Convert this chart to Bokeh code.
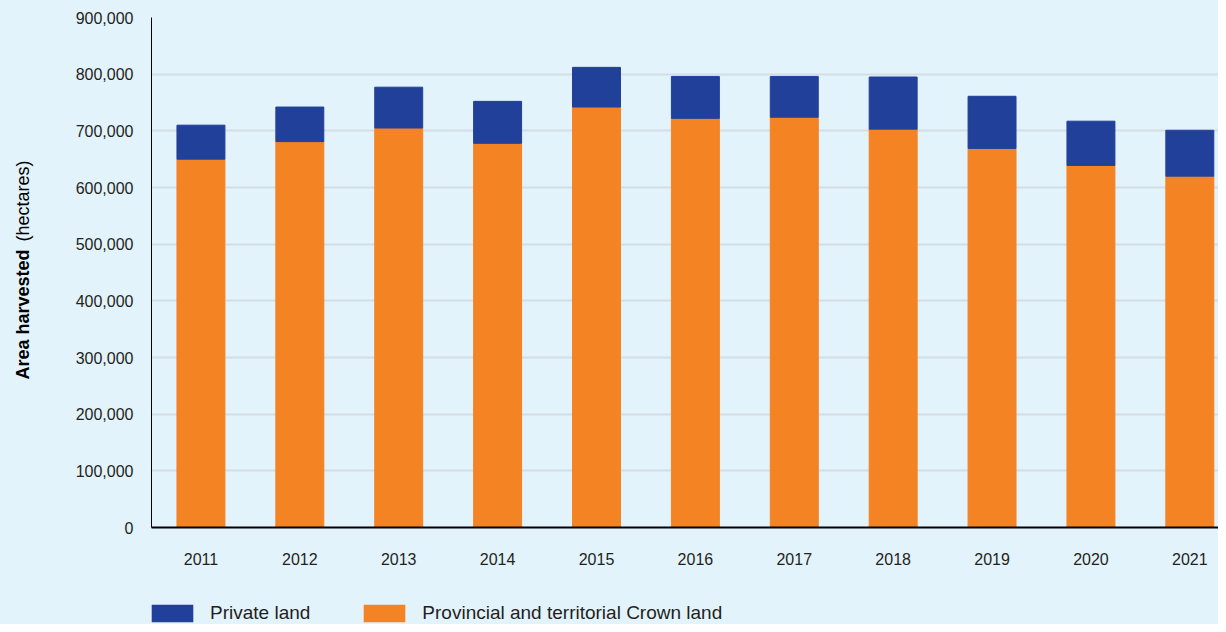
from math import pi
from bokeh.plotting import figure
from bokeh.layouts import column, row
from bokeh.core.properties import value
from bokeh.models import (ColumnDataSource, Legend, LegendItem, FixedTicker,
                          NumeralTickFormatter, Range1d)
from bokeh.embed import file_html
from bokeh.resources import INLINE

years = ["2011", "2012", "2013", "2014", "2015", "2016", "2017", "2018", "2019", "2020", "2021"]
crown_land = [650000, 681000, 705000, 678000, 742000, 722000, 724000, 703000, 669000, 639000, 620000]
private_land = [60000, 61000, 72000, 74000, 70000, 74000, 72000, 92000, 92000, 78000, 81000]
y_ticks = [0, 100000, 200000, 300000, 400000, 500000, 600000, 700000, 800000, 900000]
series_names = ["Private land", "Provincial and territorial Crown land"]
y_title_bold = "Area harvested"
y_title_unit = "(hectares)"

BG = "#e3f3fc"
ORANGE = "#f48323"
NAVY = "#21409a"
TXT = "#231f20"
FONT = "Liberation Sans"

xs = [i + 0.5 for i in range(len(years))]
totals = [c + p for c, p in zip(crown_land, private_land)]
src = ColumnDataSource(dict(x=xs, crown=crown_land, private=private_land, total=totals))

y_range = Range1d(0, 900000)
TOP, BOTTOM = 17, 73

p = figure(width=1178, height=600, output_backend="svg", toolbar_location=None,
           x_range=Range1d(0, 10.79), y_range=y_range,
           min_border_left=111, min_border_right=0, min_border_top=TOP, min_border_bottom=BOTTOM,
           background_fill_color=BG, border_fill_color=BG, outline_line_color=None)

r_crown = p.vbar(x="x", bottom=0, top="crown", width=0.485, color=ORANGE, source=src)
r_priv = p.vbar(x="x", bottom="crown", top="total", width=0.485, color=NAVY, source=src)

p.xgrid.visible = False
p.ygrid.grid_line_color = "#d3dde3"
p.ygrid.grid_line_width = 2
p.ygrid.ticker = FixedTicker(ticks=y_ticks)

p.yaxis.ticker = FixedTicker(ticks=y_ticks)
p.yaxis.formatter = NumeralTickFormatter(format="0,0")
p.yaxis.axis_line_color = "black"
p.yaxis.axis_line_width = 1
p.yaxis.major_tick_line_color = None
p.yaxis.minor_tick_line_color = None
p.yaxis.major_tick_out = 0
p.yaxis.minor_tick_out = 0
p.yaxis.major_label_standoff = 18
p.yaxis.major_label_text_font = FONT
p.yaxis.major_label_text_font_size = "16px"
p.yaxis.major_label_text_color = TXT

p.xaxis.ticker = FixedTicker(ticks=xs)
p.xaxis.major_label_overrides = {x: y for x, y in zip(xs, years)}
p.xaxis.axis_line_color = "black"
p.xaxis.axis_line_width = 2
p.xaxis.major_tick_line_color = None
p.xaxis.minor_tick_line_color = None
p.xaxis.major_tick_out = 0
p.xaxis.minor_tick_out = 0
p.xaxis.major_label_standoff = 25
p.xaxis.major_label_text_font = FONT
p.xaxis.major_label_text_font_size = "16px"
p.xaxis.major_label_text_color = TXT

# narrow strip on the left for the y-axis title (bold + normal parts)
t = figure(width=40, height=600, output_backend="svg", toolbar_location=None,
           x_range=Range1d(0, 40), y_range=y_range,
           x_axis_location=None, y_axis_location=None,
           min_border_left=0, min_border_right=0, min_border_top=TOP, min_border_bottom=BOTTOM,
           background_fill_color=BG, border_fill_color=BG, outline_line_color=None)
t.xgrid.visible = False
t.ygrid.visible = False
t.text(x=[22], y=[261000], text=[y_title_bold], angle=pi / 2, text_align="left",
       text_baseline="middle", text_font=value(FONT), text_font_style="bold",
       text_font_size="18px", text_color="black")
t.text(x=[22], y=[647600], text=[y_title_unit], angle=pi / 2, text_align="right",
       text_baseline="middle", text_font=value(FONT), text_font_size="18px", text_color="black")

# legend strip below the chart (swatch renderers have zero size, so draw nothing)
lg = figure(width=1218, height=24, output_backend="svg", toolbar_location=None,
            x_range=Range1d(0, 1), y_range=Range1d(0, 1),
            x_axis_location=None, y_axis_location=None,
            min_border_left=0, min_border_right=0, min_border_top=0, min_border_bottom=0,
            background_fill_color=BG, border_fill_color=BG, outline_line_color=None)
lg.xgrid.visible = False
lg.ygrid.visible = False
d_priv = lg.vbar(x=[0.5], bottom=[0], top=[0], width=0, fill_color=NAVY, line_color=None)
d_crown = lg.vbar(x=[0.5], bottom=[0], top=[0], width=0, fill_color=ORANGE, line_color=None)

legend = Legend(items=[LegendItem(label=series_names[0], renderers=[d_priv]),
                       LegendItem(label=series_names[1], renderers=[d_crown])],
                orientation="horizontal", location=(146, 0),
                glyph_width=52, glyph_height=22, label_height=20,
                label_standoff=12, spacing=48, margin=0, padding=0,
                label_text_font=FONT, label_text_font_size="19px", label_text_color=TXT,
                background_fill_alpha=0, border_line_color=None)
lg.add_layout(legend, "center")

layout = column(row(t, p, spacing=0), lg, spacing=0, styles={"background-color": BG})
open("out.html", "w").write(file_html(layout, INLINE))
